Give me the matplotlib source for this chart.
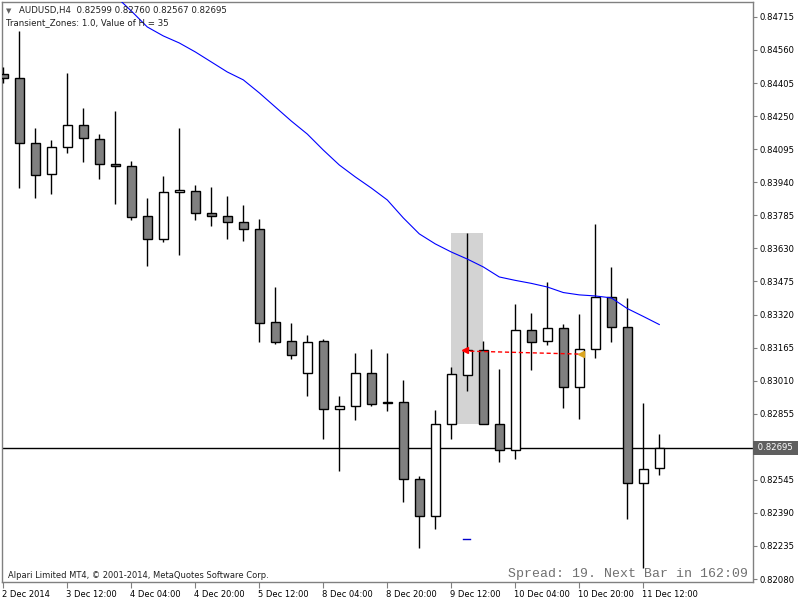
import numpy as np
import matplotlib
matplotlib.use('Agg')
import matplotlib.pyplot as plt
import matplotlib.transforms as mtransforms

# AUDUSD H4 bars, oldest first (bar 0 = 2 Dec 20:00)
opens = [0.84446, 0.84428, 0.84123, 0.83978, 0.84104, 0.84207, 0.84142, 0.84024,
         0.84015, 0.83781, 0.83673, 0.83893, 0.83898, 0.83795, 0.83781, 0.83752,
         0.83720, 0.83284, 0.83195, 0.83045, 0.83195, 0.82876, 0.82890, 0.83045,
         0.82912, 0.82908, 0.82548, 0.82374, 0.82805, 0.83035, 0.83152, 0.82805,
         0.82683, 0.83246, 0.83195, 0.83255, 0.82979, 0.83157, 0.83401, 0.83260,
         0.82529, 0.82599]
highs = [0.84482, 0.84647, 0.84193, 0.84138, 0.84452, 0.84287, 0.84165, 0.84274,
         0.84038, 0.83865, 0.83968, 0.84193, 0.83926, 0.83917, 0.83874, 0.83832,
         0.83767, 0.83448, 0.83279, 0.83224, 0.83205, 0.82937, 0.83140, 0.83158,
         0.83140, 0.83013, 0.82562, 0.82871, 0.83075, 0.83702, 0.83195, 0.83065,
         0.83369, 0.83327, 0.83473, 0.83274, 0.83321, 0.83744, 0.83541, 0.83396,
         0.82905, 0.82760]
lows = [0.84404, 0.83912, 0.83868, 0.83887, 0.84079, 0.84037, 0.83957, 0.83840,
        0.83765, 0.83549, 0.83662, 0.83601, 0.83765, 0.83737, 0.83676, 0.83666,
        0.83193, 0.83183, 0.83113, 0.82940, 0.82738, 0.82588, 0.82827, 0.82893,
        0.82869, 0.82443, 0.82227, 0.82316, 0.82738, 0.82963, 0.82836, 0.82630,
        0.82643, 0.83061, 0.83179, 0.82883, 0.82831, 0.83115, 0.83193, 0.82360,
        0.82133, 0.82567]
closes = [0.84428, 0.84123, 0.83973, 0.84104, 0.84207, 0.84146, 0.84024, 0.84015,
          0.83776, 0.83673, 0.83893, 0.83902, 0.83795, 0.83781, 0.83752, 0.83720,
          0.83279, 0.83193, 0.83129, 0.83190, 0.82876, 0.82890, 0.83045, 0.82899,
          0.82905, 0.82548, 0.82374, 0.82805, 0.83040, 0.83152, 0.82805, 0.82683,
          0.83246, 0.83190, 0.83255, 0.82979, 0.83157, 0.83401, 0.83260, 0.82529,
          0.82594, 0.82695]

# moving average (blue), from bar 7 on
ma_start = 7
ma = [0.84814, 0.84743, 0.84668, 0.84626, 0.84593, 0.84551, 0.84504, 0.84457,
      0.84420, 0.84359, 0.84293, 0.84227, 0.84166, 0.84091, 0.84021, 0.83965,
      0.83913, 0.83857, 0.83773, 0.83698, 0.83651, 0.83613, 0.83580, 0.83543,
      0.83496, 0.83480, 0.83466, 0.83449, 0.83423, 0.83412, 0.83407, 0.83398,
      0.83348, 0.83311, 0.83273]

# transient zone box and link
zone_bars = [28, 30]
zone_prices = [0.82808, 0.83702]
link_bars = [28.75, 36.2]
link_prices = [0.83149, 0.83134]
mark_bar = 29
mark_price = 0.82266

date_ticks = [0, 4, 8, 12, 16, 20, 24, 28, 32, 36, 40]
date_labels = ['2 Dec 2014', '3 Dec 12:00', '4 Dec 04:00', '4 Dec 20:00', '5 Dec 12:00',
               '8 Dec 04:00', '8 Dec 20:00', '9 Dec 12:00', '10 Dec 04:00',
               '10 Dec 20:00', '11 Dec 12:00']
price_ticks = [0.84715, 0.84560, 0.84405, 0.84250, 0.84095, 0.83940, 0.83785,
               0.83630, 0.83475, 0.83320, 0.83165, 0.83010, 0.82855, 0.82545,
               0.82390, 0.82235, 0.82080]
last_price = 0.82695

opens = np.array(opens)
closes = np.array(closes)
highs = np.array(highs)
lows = np.array(lows)
x = np.arange(len(opens))

fig = plt.figure(figsize=(8, 6), dpi=100)
fig.patch.set_facecolor('white')
ax = fig.add_axes([2/800, 18/600, 751/800, 580/600])
ax.set_xlim(-0.08, -0.08 + 751/16)
ax.set_ylim(0.82066, 0.84785)

# zone
ax.fill_between(zone_bars, zone_prices[0], zone_prices[1], color='#d3d3d3', lw=0, zorder=1)
ax.axhline(last_price, color='black', lw=1.0, zorder=2)

# candles
ax.vlines(x, lows, highs, color='black', lw=1.0, zorder=3)
up = closes >= opens
bottoms = np.minimum(opens, closes)
heights = np.maximum(np.abs(closes - opens), 0.00002)
colors = ['white' if u else '#808080' for u in up]
ax.bar(x, heights, bottom=bottoms, width=0.56, color=colors, edgecolor='black',
       lw=1.0, zorder=4)

# blue MA
ax.plot(np.arange(ma_start, ma_start + len(ma)), ma, color='#0000ff', lw=0.8, zorder=5)

# link
ax.plot(link_bars, link_prices, color='red', lw=1.0, ls=(0, (3, 2)), zorder=6)
ax.plot(link_bars[0] + 0.1, link_prices[0] + 0.00004, marker='<', color='red', ms=5, zorder=7)
ax.plot(link_bars[1] - 0.1, link_prices[1], marker='<', color='#daa520', ms=5, zorder=7)
ax.plot([mark_bar - 0.25, mark_bar + 0.2], [mark_price, mark_price], color='#0000cc', lw=1.0, zorder=6)

# axes styling
for s in ax.spines.values():
    s.set_color('#808080')
    s.set_linewidth(1.0)

ax.yaxis.tick_right()
ax.set_yticks(price_ticks)
ax.set_yticklabels(['%.5f' % p for p in price_ticks])
ax.tick_params(axis='y', length=3, width=0.8, color='#808080', pad=2,
               labelsize=6.1, labelcolor='black')
ax.set_xticks(date_ticks)
ax.set_xticklabels(date_labels)
ax.tick_params(axis='x', length=4, width=0.8, color='#808080', pad=2,
               labelsize=6.0, labelcolor='black')
offset = mtransforms.ScaledTranslation(-1/100, 0, fig.dpi_scale_trans)
for lab in ax.get_xticklabels():
    lab.set_horizontalalignment('left')
    lab.set_transform(lab.get_transform() + offset)

# current price label
trans = mtransforms.blended_transform_factory(ax.transAxes, ax.transData)
ax.text(1.003, last_price, ' 0.82695 ', transform=trans, ha='left', va='center',
        fontsize=6.1, color='white',
        bbox=dict(boxstyle='square,pad=0.3', fc='#5f5f5f', ec='none'), zorder=10)

# header texts
fig.text(6/800, 1 - 11/600, '\u25bc', fontsize=5, color='#606060', va='center', ha='left')
fig.text(19/800, 1 - 11/600, 'AUDUSD,H4  0.82599 0.82760 0.82567 0.82695',
         fontsize=6.2, color='#202020', va='center', ha='left')
fig.text(6/800, 1 - 23/600, 'Transient_Zones: 1.0, Value of H = 35',
         fontsize=6.2, color='#202020', va='center', ha='left')
fig.text(8/800, 1 - 575/600, 'Alpari Limited MT4, \u00a9 2001-2014, MetaQuotes Software Corp.',
         fontsize=6.0, color='#202020', va='center', ha='left')
fig.text(748/800, 1 - 574/600, 'Spread: 19. Next Bar in 162:09',
         fontsize=9.5, family='Liberation Mono', color='#707070', va='center', ha='right')

fig.savefig('out.png', dpi=100, facecolor='white')
